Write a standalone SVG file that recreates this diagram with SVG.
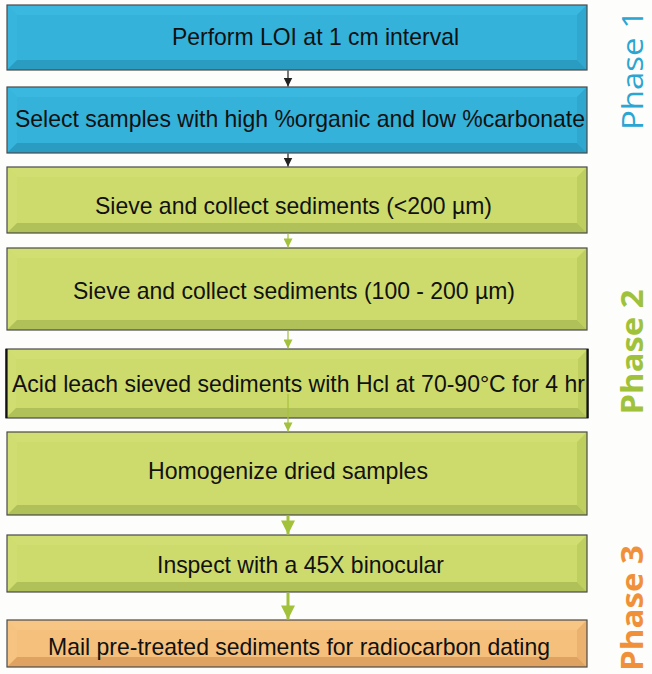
<svg xmlns="http://www.w3.org/2000/svg" width="652" height="674" viewBox="0 0 652 674">
<style>
.bx{stroke:#4a4a4a;stroke-width:1.2;fill:none}
.t{font-family:"Liberation Sans",Arial,sans-serif;font-size:24px;fill:#111;text-anchor:middle}
.ph{font-family:"Open Sans","Noto Sans",sans-serif;font-size:30px;text-anchor:middle}
.b .m{fill:#34b2da}.b .tp{fill:#3ab8e0}.b .lf{fill:#37b5dd}.b .rt{fill:#2fa7cf}.b .bt{fill:#2a9cc2}
.g .m{fill:#cddb6d}.g .tp{fill:#d1de72}.g .lf{fill:#d0dd70}.g .rt{fill:#bfcf5f}.g .bt{fill:#afc158}
.o .m{fill:#f5c07c}.o .tp{fill:#f7c584}.o .lf{fill:#f6c380}.o .rt{fill:#ebb16e}.o .bt{fill:#e0a261}
.cb{stroke:#222;stroke-width:1.2;fill:none}
.cg{stroke:#a3c23c;stroke-width:1.2;fill:none}
.cg2{stroke:#a3c23c;stroke-width:3;fill:none}
</style>
<defs>
<marker id="hb" viewBox="0 0 10 10" refX="10" refY="5" markerUnits="userSpaceOnUse" markerWidth="9" markerHeight="9" orient="auto"><path d="M0,0 L10,5 L0,10 z" fill="#222"/></marker>
<marker id="hg" viewBox="0 0 10 10" refX="10" refY="5" markerUnits="userSpaceOnUse" markerWidth="10" markerHeight="9" orient="auto"><path d="M0,0 L10,5 L0,10 z" fill="#a3c23c"/></marker>
<marker id="hG" viewBox="0 0 10 10" refX="10" refY="5" markerUnits="userSpaceOnUse" markerWidth="15" markerHeight="14" orient="auto"><path d="M0,0 L10,5 L0,10 z" fill="#a3c23c"/></marker>
</defs>
<rect width="652" height="674" fill="#fdfdfb"/>

<g id="n1" class="b">
<rect class="m" x="7" y="5" width="580" height="65"/>
<polygon class="tp" points="7,5 587,5 577,15 17,15"/>
<polygon class="lf" points="7,5 17,15 17,60 7,70"/>
<polygon class="rt" points="587,5 577,15 577,60 587,70"/>
<polygon class="bt" points="7,70 587,70 577,60 17,60"/>
<rect class="bx" x="7" y="5" width="580" height="65"/>
<text class="t" x="315.5" y="44.5" textLength="287" lengthAdjust="spacingAndGlyphs">Perform LOI at 1 cm interval</text>
</g>

<g id="n2" class="b">
<rect class="m" x="7" y="87" width="580" height="66"/>
<polygon class="tp" points="7,87 587,87 577,97 17,97"/>
<polygon class="lf" points="7,87 17,97 17,143 7,153"/>
<polygon class="rt" points="587,87 577,97 577,143 587,153"/>
<polygon class="bt" points="7,153 587,153 577,143 17,143"/>
<rect class="bx" x="7" y="87" width="580" height="66"/>
<text class="t" x="300" y="126.5" textLength="570" lengthAdjust="spacingAndGlyphs">Select samples with high %organic and low %carbonate</text>
</g>

<g id="n3" class="g">
<rect class="m" x="7" y="167" width="580" height="66"/>
<polygon class="tp" points="7,167 587,167 577,177 17,177"/>
<polygon class="lf" points="7,167 17,177 17,223 7,233"/>
<polygon class="rt" points="587,167 577,177 577,223 587,233"/>
<polygon class="bt" points="7,233 587,233 577,223 17,223"/>
<rect class="bx" x="7" y="167" width="580" height="66"/>
<text class="t" x="293.5" y="214" textLength="397" lengthAdjust="spacingAndGlyphs">Sieve and collect sediments (&lt;200 µm)</text>
</g>

<g id="n4" class="g">
<rect class="m" x="7" y="248" width="580" height="82"/>
<polygon class="tp" points="7,248 587,248 577,258 17,258"/>
<polygon class="lf" points="7,248 17,258 17,320 7,330"/>
<polygon class="rt" points="587,248 577,258 577,320 587,330"/>
<polygon class="bt" points="7,330 587,330 577,320 17,320"/>
<rect class="bx" x="7" y="248" width="580" height="82"/>
<text class="t" x="294" y="298.5" textLength="442" lengthAdjust="spacingAndGlyphs">Sieve and collect sediments (100 - 200 µm)</text>
</g>

<g id="n5" class="g">
<rect class="m" x="6" y="349" width="582" height="69"/>
<polygon class="tp" points="6,349 588,349 578,359 16,359"/>
<polygon class="lf" points="6,349 16,359 16,408 6,418"/>
<polygon class="rt" points="588,349 578,359 578,408 588,418"/>
<polygon class="bt" points="6,418 588,418 578,408 16,408"/>
<rect class="bx" x="6" y="349" width="582" height="69"/>
<line x1="6.5" y1="349" x2="6.5" y2="418" stroke="#111" stroke-width="2.2"/>
<line x1="587.5" y1="349" x2="587.5" y2="418" stroke="#111" stroke-width="2.2"/>
<text class="t" x="298.5" y="391.5" textLength="573" lengthAdjust="spacingAndGlyphs">Acid leach sieved sediments with Hcl at 70-90°C for 4 hr</text>
</g>

<g id="n6" class="g">
<rect class="m" x="7" y="432" width="580" height="83"/>
<polygon class="tp" points="7,432 587,432 577,442 17,442"/>
<polygon class="lf" points="7,432 17,442 17,505 7,515"/>
<polygon class="rt" points="587,432 577,442 577,505 587,515"/>
<polygon class="bt" points="7,515 587,515 577,505 17,505"/>
<rect class="bx" x="7" y="432" width="580" height="83"/>
<text class="t" x="288" y="478.5" textLength="280" lengthAdjust="spacingAndGlyphs">Homogenize dried samples</text>
</g>

<g id="n7" class="g">
<rect class="m" x="7" y="535" width="580" height="57"/>
<polygon class="tp" points="7,535 587,535 577,545 17,545"/>
<polygon class="lf" points="7,535 17,545 17,582 7,592"/>
<polygon class="rt" points="587,535 577,545 577,582 587,592"/>
<polygon class="bt" points="7,592 587,592 577,582 17,582"/>
<rect class="bx" x="7" y="535" width="580" height="57"/>
<text class="t" x="300.5" y="573" textLength="287" lengthAdjust="spacingAndGlyphs">Inspect with a 45X binocular</text>
</g>

<g id="n8" class="o">
<rect class="m" x="7" y="620" width="580" height="47"/>
<polygon class="tp" points="7,620 587,620 577,630 17,630"/>
<polygon class="lf" points="7,620 17,630 17,657 7,667"/>
<polygon class="rt" points="587,620 577,630 577,657 587,667"/>
<polygon class="bt" points="7,667 587,667 577,657 17,657"/>
<rect class="bx" x="7" y="620" width="580" height="47"/>
<text class="t" x="299" y="655" textLength="502" lengthAdjust="spacingAndGlyphs">Mail pre-treated sediments for radiocarbon dating</text>
</g>

<g id="connectors">
<line class="cb" x1="288" y1="70.6" x2="288" y2="86.5" marker-end="url(#hb)"/>
<line class="cb" x1="288" y1="153.6" x2="288" y2="166.5" marker-end="url(#hb)"/>
<line class="cg" x1="288" y1="233.6" x2="288" y2="247.5" marker-end="url(#hg)"/>
<line class="cg" x1="288" y1="330.6" x2="288" y2="348.5" marker-end="url(#hg)"/>
<line class="cg" x1="288" y1="394" x2="288" y2="431.5" marker-end="url(#hg)"/>
<line class="cg2" x1="288" y1="515.6" x2="288" y2="534.5" marker-end="url(#hG)"/>
<line class="cg2" x1="288" y1="592.6" x2="288" y2="619.5" marker-end="url(#hG)"/>
</g>

<g id="phases">
<text class="ph" transform="translate(643,70) rotate(-90)" fill="#2ba6d2" textLength="120" lengthAdjust="spacingAndGlyphs">Phase 1</text>
<text class="ph" transform="translate(643,352) rotate(-90)" fill="#9fc23a" font-weight="bold" textLength="125" lengthAdjust="spacingAndGlyphs">Phase 2</text>
<text class="ph" transform="translate(643,608) rotate(-90)" fill="#f0913a" font-weight="bold" textLength="126" lengthAdjust="spacingAndGlyphs">Phase 3</text>
</g>
</svg>
